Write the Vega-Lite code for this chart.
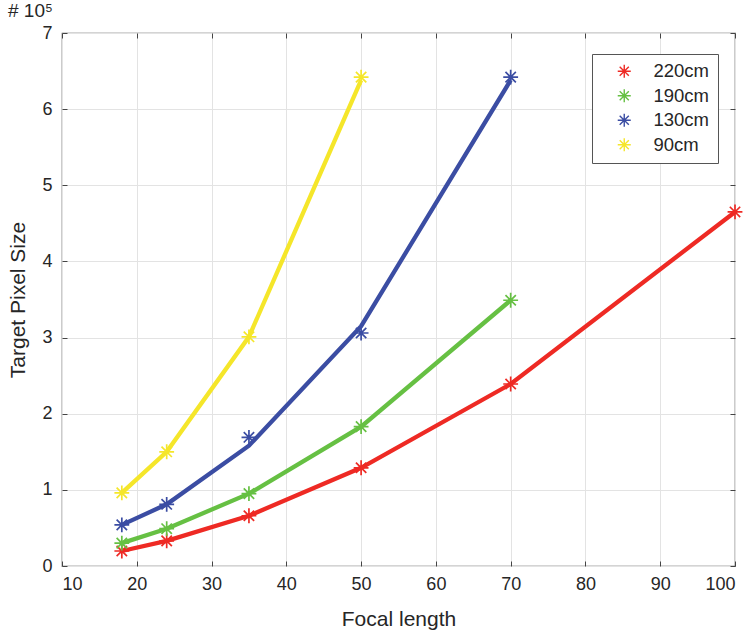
{
  "$schema": "https://vega.github.io/schema/vega-lite/v6.json",
  "width": 673,
  "height": 533,
  "autosize": {"type": "none"},
  "padding": {"left": 62, "top": 33, "right": 16, "bottom": 67},
  "background": "white",
  "config": {
    "font": "Liberation Sans",
    "view": {"stroke": "#555555", "strokeWidth": 1.2},
    "axis": {"labelFont": "Liberation Sans", "titleFont": "Liberation Sans", "labelColor": "#262626", "titleColor": "#262626", "titleFontWeight": "normal"}
  },
  "title": {"text": "# 10⁵", "anchor": "start", "fontSize": 19, "fontWeight": "normal", "color": "#262626", "offset": 3, "font": "Liberation Sans"},
  "data": {"values": [
    {"f": 18, "d": "220cm", "marker": 0.197, "line": 0.197},
    {"f": 24, "d": "220cm", "marker": 0.33, "line": 0.33},
    {"f": 35, "d": "220cm", "marker": 0.66, "line": 0.66},
    {"f": 50, "d": "220cm", "marker": 1.29, "line": 1.29},
    {"f": 70, "d": "220cm", "marker": 2.39, "line": 2.39},
    {"f": 100, "d": "220cm", "marker": 4.65, "line": 4.65},
    {"f": 18, "d": "190cm", "marker": 0.30, "line": 0.30},
    {"f": 24, "d": "190cm", "marker": 0.49, "line": 0.49},
    {"f": 35, "d": "190cm", "marker": 0.95, "line": 0.95},
    {"f": 50, "d": "190cm", "marker": 1.83, "line": 1.83},
    {"f": 70, "d": "190cm", "marker": 3.49, "line": 3.49},
    {"f": 18, "d": "130cm", "marker": 0.54, "line": 0.54},
    {"f": 24, "d": "130cm", "marker": 0.81, "line": 0.81},
    {"f": 35, "d": "130cm", "marker": 1.69, "line": 1.58},
    {"f": 50, "d": "130cm", "marker": 3.06, "line": 3.15},
    {"f": 70, "d": "130cm", "marker": 6.42, "line": 6.38},
    {"f": 18, "d": "90cm", "marker": 0.96, "line": 0.96},
    {"f": 24, "d": "90cm", "marker": 1.50, "line": 1.50},
    {"f": 35, "d": "90cm", "marker": 3.01, "line": 3.01},
    {"f": 50, "d": "90cm", "marker": 6.42, "line": 6.38}
  ]},
  "layer": [
    {
      "mark": {"type": "line", "strokeWidth": 4.3, "clip": true},
      "encoding": {
        "x": {"field": "f", "type": "quantitative", "scale": {"domain": [10, 100], "nice": false},
          "axis": {"orient": "bottom", "title": "Focal length", "values": [10,20,30,40,50,60,70,80,90,100], "grid": true, "gridColor": "#e3e3e3", "domain": false, "tickColor": "#444444", "tickSize": -5, "labelPadding": 14, "labelFontSize": 18, "titleFontSize": 21, "titlePadding": 15}},
        "y": {"field": "line", "type": "quantitative", "scale": {"domain": [0, 7], "nice": false},
          "axis": {"orient": "left", "title": "Target Pixel Size", "values": [0,1,2,3,4,5,6,7], "grid": true, "gridColor": "#e3e3e3", "domain": false, "tickColor": "#444444", "tickSize": -5, "labelPadding": 15, "labelFontSize": 18, "titleFontSize": 21, "titlePadding": 13}},
        "color": {"field": "d", "type": "nominal", "scale": {"domain": ["220cm", "190cm", "130cm", "90cm"], "range": ["#ee2a24", "#66c043", "#3b4da3", "#f5e62a"]},
          "legend": {"title": null, "orient": "none", "legendX": 530, "legendY": 21, "labelFontSize": 18.5, "labelColor": "#262626", "labelFont": "Liberation Sans", "strokeColor": "#555555", "fillColor": "white", "padding": 8, "rowPadding": 4.5, "symbolSize": 170, "symbolStrokeWidth": 1.4, "symbolType": "M-1,0L1,0M0,-1L0,1M-0.7,-0.7L0.7,0.7M-0.7,0.7L0.7,-0.7", "symbolFillColor": "transparent", "symbolOffset": 15, "labelOffset": 20, "offset": 0}},
        "detail": {"field": "d"}
      }
    },
    {
      "mark": {"type": "point", "filled": false, "strokeWidth": 1.7, "size": 220, "opacity": 1, "shape": "M-1,0L1,0M0,-1L0,1M-0.7,-0.7L0.7,0.7M-0.7,0.7L0.7,-0.7"},
      "encoding": {
        "x": {"field": "f", "type": "quantitative",
          "axis": {"orient": "top", "title": null, "labels": false, "values": [10,20,30,40,50,60,70,80,90,100], "grid": false, "domain": false, "tickColor": "#444444", "tickSize": -5}},
        "y": {"field": "marker", "type": "quantitative",
          "axis": {"orient": "right", "title": null, "labels": false, "values": [0,1,2,3,4,5,6,7], "grid": false, "domain": false, "tickColor": "#444444", "tickSize": -5}},
        "color": {"field": "d", "type": "nominal",
          "legend": {"title": null, "orient": "none", "legendX": 530, "legendY": 21, "labelFontSize": 18.5, "labelColor": "#262626", "labelFont": "Liberation Sans", "strokeColor": "#555555", "fillColor": "white", "padding": 8, "rowPadding": 4.5, "symbolSize": 170, "symbolStrokeWidth": 1.4, "symbolType": "M-1,0L1,0M0,-1L0,1M-0.7,-0.7L0.7,0.7M-0.7,0.7L0.7,-0.7", "symbolFillColor": "transparent", "symbolOffset": 15, "labelOffset": 20, "offset": 0}}
      }
    }
  ]
}
